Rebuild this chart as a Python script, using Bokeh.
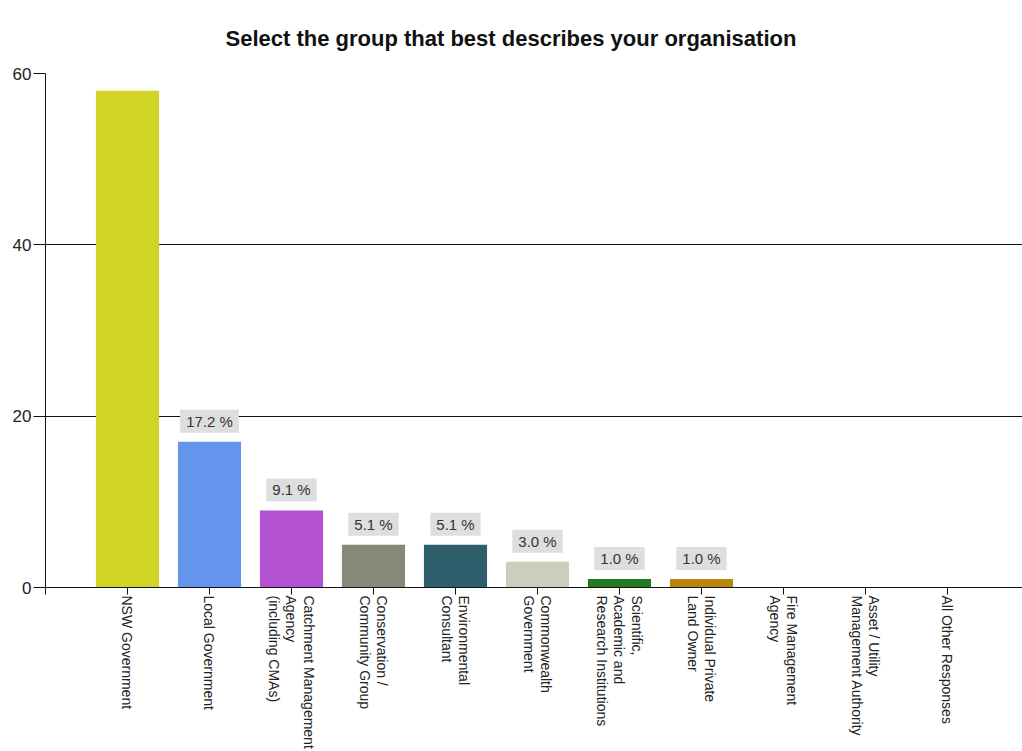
import math
from bokeh.plotting import figure
from bokeh.models import ColumnDataSource, Range1d, FixedTicker
from bokeh.core.properties import value
from bokeh.embed import file_html
from bokeh.resources import INLINE

categories = [
    "NSW Government",
    "Local Government",
    "Catchment Management\nAgency\n(including CMAs)",
    "Conservation /\nCommunity Group",
    "Environmental\nConsultant",
    "Commonwealth\nGovernment",
    "Scientific,\nAcademic and\nResearch Institutions",
    "Individual Private\nLand Owner",
    "Fire Management\nAgency",
    "Asset / Utility\nManagement Authority",
    "All Other Responses",
]
counts = [58, 17, 9, 5, 5, 3, 1, 1, 0, 0, 0]
pct_labels = ["", "17.2 %", "9.1 %", "5.1 %", "5.1 %", "3.0 %", "1.0 %", "1.0 %", "", "", ""]
colors = ["#d0d426", "#6495ed", "#b450d2", "#878877", "#2e5e6b",
          "#cdcdbd", "#1e7b1e", "#b8860b", "#999999", "#999999", "#999999"]
y_ticks = [0, 20, 40, 60]

FONT = "Liberation Sans"

idx = list(range(len(categories)))
src = ColumnDataSource(dict(x=idx, top=counts, color=colors))

shown = [i for i, t in enumerate(pct_labels) if t]
lab_src = ColumnDataSource(dict(
    x=[idx[i] for i in shown],
    y=[counts[i] for i in shown],
    text=[pct_labels[i] for i in shown],
))

p = figure(width=1022, height=751,
           x_range=Range1d(-1, 10.915), y_range=Range1d(0, 60),
           output_backend="svg", toolbar_location=None,
           min_border_left=45, min_border_right=0,
           min_border_top=10, min_border_bottom=164)

p.title.text = "Select the group that best describes your organisation"
p.title.text_font = FONT
p.title.text_font_size = "22px"
p.title.text_font_style = "bold"
p.title.text_color = "#111111"
p.title.align = "left"
p.title.offset = 180
p.title.standoff = 46

p.outline_line_color = None
p.background_fill_color = "white"

p.vbar(x="x", top="top", width=0.77, color="color", source=src, line_color=None)

p.text(x="x", y="y", text="text", source=lab_src,
       text_align="center", text_baseline="bottom",
       y_offset=-9, text_font=value(FONT), text_font_size="15px",
       text_color="#333333",
       background_fill_color="#dedede", padding=(6, 3))

# y axis
p.yaxis.ticker = FixedTicker(ticks=y_ticks)
p.yaxis.minor_tick_line_color = None
p.yaxis.major_tick_out = 12
p.yaxis.major_tick_in = 0
p.yaxis.major_label_standoff = 2
p.yaxis.major_label_text_font = FONT
p.yaxis.major_label_text_font_size = "17px"
p.yaxis.major_label_text_color = "#222222"
p.yaxis.axis_line_color = "#111111"
p.yaxis.major_tick_line_color = "#111111"

# x axis
p.xaxis.ticker = FixedTicker(ticks=[-1] + idx)
overrides = {-1: ""}
for i, c in zip(idx, categories):
    overrides[i] = c
p.xaxis.major_label_overrides = overrides
p.xaxis.major_label_orientation = -math.pi / 2
p.xaxis.minor_tick_line_color = None
p.xaxis.major_tick_out = 7
p.xaxis.major_tick_in = 0
p.xaxis.major_label_standoff = 1
p.xaxis.major_label_text_font = FONT
p.xaxis.major_label_text_font_size = "14px"
p.xaxis.major_label_text_line_height = 1.1
p.xaxis.major_label_text_color = "#222222"
p.xaxis.axis_line_color = "#111111"
p.xaxis.major_tick_line_color = "#111111"

p.xgrid.visible = False
p.ygrid.ticker = FixedTicker(ticks=y_ticks)
p.ygrid.grid_line_color = "#111111"
p.ygrid.grid_line_width = 1

open("out.html", "w").write(file_html(p, INLINE))
